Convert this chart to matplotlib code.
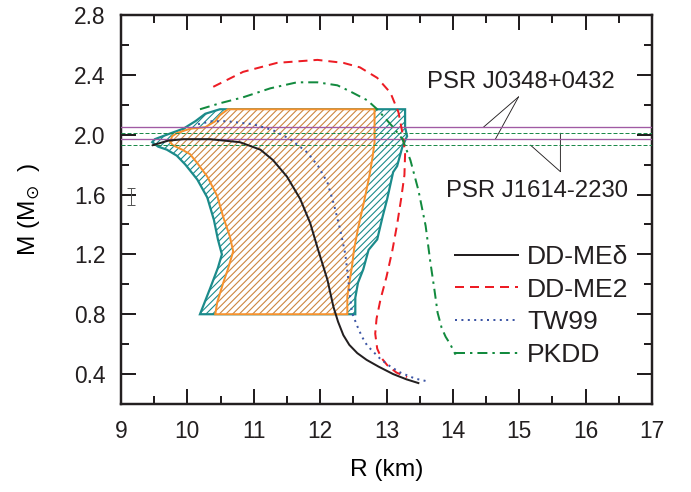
import matplotlib
matplotlib.use('Agg')
import matplotlib.pyplot as plt
from matplotlib.patches import Polygon
from matplotlib.ticker import MultipleLocator, FormatStrFormatter

plt.rcParams['font.family'] = ['Liberation Sans', 'DejaVu Sans']
plt.rcParams['hatch.linewidth'] = 1.0
plt.rcParams['text.color'] = '#231f20'

# mass-radius curves (R in km, M in solar masses)
r_ddmed = [9.48, 9.71, 9.94, 10.34, 10.79, 11.10, 11.29, 11.50, 11.70, 11.85, 11.97, 12.11, 12.20, 12.27,
           12.35, 12.44, 12.56, 12.70, 12.88, 13.10, 13.30, 13.48]
m_ddmed = [1.93, 1.96, 1.97, 1.97, 1.95, 1.90, 1.83, 1.72, 1.57, 1.41, 1.23, 1.03, 0.85, 0.75,
           0.66, 0.595, 0.54, 0.495, 0.45, 0.40, 0.365, 0.34]

r_ddme2 = [10.39, 10.84, 11.35, 11.96, 12.35, 12.60, 12.86, 13.06, 13.18, 13.25, 13.28, 13.27, 13.22,
           13.16, 13.09, 13.00, 12.91, 12.85, 12.83, 12.86, 12.92, 13.01, 13.15, 13.31]
m_ddme2 = [2.32, 2.42, 2.48, 2.50, 2.48, 2.45, 2.38, 2.28, 2.15, 1.99, 1.87, 1.73, 1.57,
           1.40, 1.23, 1.05, 0.90, 0.77, 0.67, 0.57, 0.51, 0.46, 0.41, 0.38]

r_tw99 = [10.16, 10.37, 10.60, 10.79, 10.99, 11.29, 11.55, 11.81, 11.97, 12.11, 12.21, 12.30, 12.38, 12.42,
          12.45, 12.48, 12.56, 12.63, 12.71, 12.91, 13.06, 13.21, 13.43, 13.63]
m_tw99 = [2.07, 2.09, 2.09, 2.08, 2.07, 2.03, 1.97, 1.88, 1.79, 1.68, 1.53, 1.37, 1.20, 1.05,
          0.92, 0.81, 0.72, 0.65, 0.59, 0.50, 0.45, 0.41, 0.37, 0.35]

r_pkdd = [10.19, 10.49, 10.84, 11.25, 11.65, 11.96, 12.26, 12.45, 12.71, 12.86, 13.10, 13.24, 13.36, 13.48,
          13.59, 13.66, 13.72, 13.77, 13.83, 13.89, 13.96, 14.04]
m_pkdd = [2.17, 2.21, 2.25, 2.31, 2.35, 2.35, 2.33, 2.29, 2.23, 2.17, 2.05, 1.97, 1.83, 1.63,
          1.39, 1.15, 0.97, 0.81, 0.71, 0.65, 0.60, 0.53]

# constraint regions
r_outer = [10.49, 10.27, 10.12, 9.94, 9.69, 9.51, 9.47, 9.56, 9.69, 9.84, 9.97, 10.15, 10.30, 10.40, 10.46,
           10.52, 10.46, 10.34, 10.19, 12.53, 12.53, 12.57, 12.65, 12.73, 12.86, 12.94, 13.01, 13.10,
           13.16, 13.24, 13.31, 13.28, 13.28]
m_outer = [2.17, 2.14, 2.09, 2.04, 2.00, 1.97, 1.95, 1.92, 1.90, 1.86, 1.80, 1.70, 1.58, 1.43, 1.30,
           1.20, 1.11, 0.97, 0.80, 0.80, 0.91, 1.01, 1.10, 1.23, 1.30, 1.45, 1.57, 1.75,
           1.79, 1.92, 1.99, 2.05, 2.17]

r_inner = [10.61, 10.49, 10.42, 10.27, 10.04, 9.84, 9.77, 9.74, 9.78, 9.92, 10.04, 10.15, 10.30, 10.45,
           10.54, 10.64, 10.69, 10.61, 10.54, 10.45, 10.42, 12.41, 12.41, 12.44, 12.48, 12.51, 12.57,
           12.67, 12.74, 12.79, 12.82, 12.82]
m_inner = [2.17, 2.13, 2.09, 2.05, 2.04, 2.01, 1.99, 1.95, 1.93, 1.90, 1.87, 1.81, 1.72, 1.59,
           1.45, 1.32, 1.22, 1.10, 1.01, 0.88, 0.80, 0.80, 0.92, 1.01, 1.12, 1.23, 1.37,
           1.57, 1.72, 1.85, 1.95, 2.17]

# pulsar mass bands
j0348 = [2.05, 1.97]
j1614 = [2.01, 1.93]

err_r, err_m, err_dm = 9.15, 1.585, 0.057

teal = '#1b8b8b'
orange = '#f7922d'
orange_hatch = '#cc8640'

fig = plt.figure(figsize=(691 / 80, 492 / 80), dpi=80)
ax = fig.add_axes([121 / 691, 1 - 404 / 492, 531 / 691, 389 / 492])

outer = list(zip(r_outer, m_outer))
inner = list(zip(r_inner, m_inner))
ax.add_patch(Polygon(outer, closed=True, facecolor='white', edgecolor=teal, lw=0, hatch='////', zorder=1))
ax.add_patch(Polygon(outer, closed=True, fill=False, edgecolor=teal, lw=2.0, zorder=2))
ax.add_patch(Polygon(inner, closed=True, facecolor='white', edgecolor=orange_hatch, lw=0, hatch='////', zorder=3))
ax.add_patch(Polygon(inner, closed=True, fill=False, edgecolor=orange, lw=1.8, zorder=4))

for m in j0348:
    ax.axhline(m, color='#a05aa3', lw=1.2, zorder=5)
for m in j1614:
    ax.axhline(m, color='#1d8a4a', lw=0.9, ls=(0, (4, 2)), zorder=5)

kw = dict(lw=1.8, zorder=6, solid_joinstyle='round', dash_joinstyle='round')
ax.plot(r_ddmed, m_ddmed, color='#231f20', label='DD-ME\u03b4', **kw)
ax.plot(r_ddme2, m_ddme2, color='#ed1c24', ls=(0, (4.5, 3)), label='DD-ME2', **kw)
ax.plot(r_tw99, m_tw99, color='#3c55a5', ls=(0, (1, 2.2)), label='TW99', **kw)
ax.plot(r_pkdd, m_pkdd, color='#128a3e', ls=(0, (5, 2.5, 1.2, 2.5)), label='PKDD', **kw)

ax.errorbar([err_r], [err_m], yerr=err_dm, color='#555555', lw=0.9, capsize=4, capthick=0.9, zorder=6)

# pulsar labels
ax.text(15.02, 2.353, 'PSR J0348+0432', ha='center', va='center', fontsize=21.5)
for m in j0348:
    ax.annotate('', xy=(14.46 if m > 2 else 14.64, m), xytext=(14.99, 2.253),
                arrowprops=dict(arrowstyle='-', color='#231f20', lw=0.8, shrinkA=0, shrinkB=0))
ax.text(15.27, 1.623, 'PSR J1614-2230', ha='center', va='center', fontsize=21.5)
for m in j1614:
    ax.annotate('', xy=(15.62 if m > 2 else 15.17, m), xytext=(15.62, 1.753),
                arrowprops=dict(arrowstyle='-', color='#231f20', lw=0.8, shrinkA=0, shrinkB=0))

ax.set_xlim(9, 17)
ax.set_ylim(0.2, 2.8)
ax.xaxis.set_major_locator(MultipleLocator(1))
ax.xaxis.set_minor_locator(MultipleLocator(0.5))
ax.yaxis.set_major_locator(MultipleLocator(0.4))
ax.yaxis.set_minor_locator(MultipleLocator(0.2))
ax.yaxis.set_major_formatter(FormatStrFormatter('%.1f'))
ax.tick_params(which='both', direction='in', top=True, right=True, width=1.8, color='#231f20')
ax.tick_params(which='major', length=13.5, pad=14, labelsize=20.5, labelcolor='#231f20')
ax.tick_params(which='minor', length=7)
for s in ax.spines.values():
    s.set_linewidth(2.2)
    s.set_color('#231f20')

ax.set_xlabel('R (km)', fontsize=22, labelpad=15)
ax.set_ylabel(r'M (M$_{\odot}$  )', fontsize=22, labelpad=29)

ax.legend(loc='center left', bbox_to_anchor=(0.629, 0.252), frameon=False, fontsize=23.8,
          handlelength=2.38, handletextpad=0.34, labelspacing=0.33, borderpad=0, borderaxespad=0)

fig.savefig('out.png', dpi=80)
